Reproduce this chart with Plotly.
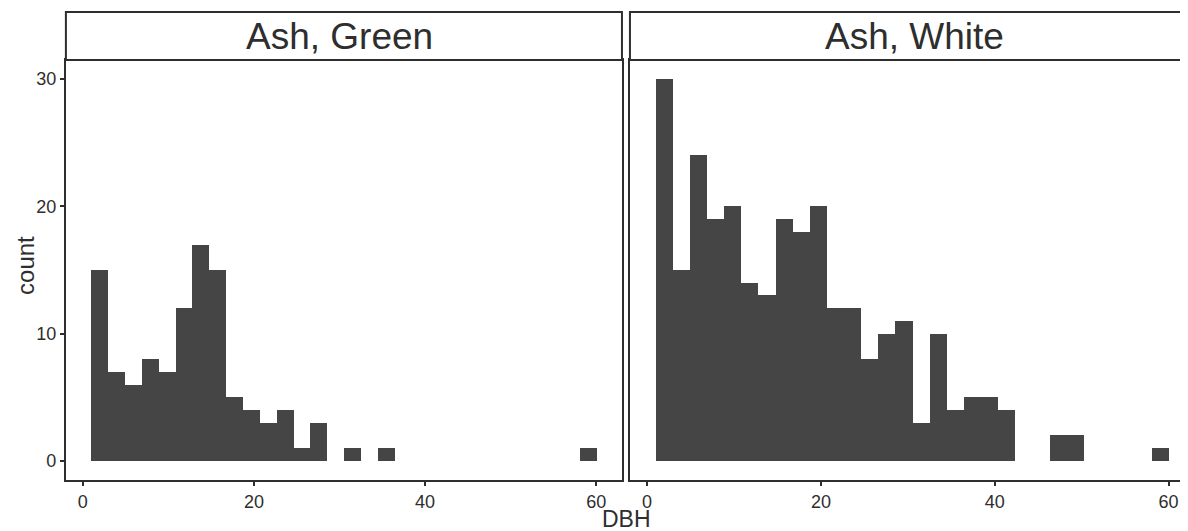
import plotly.graph_objects as go

# ---- data ----
bin_start = 0.98
bin_width = 1.97
green_counts = [15, 7, 6, 8, 7, 12, 17, 15, 5, 4, 3, 4, 1, 3, 0,
                1, 0, 1, 0, 0, 0, 0, 0, 0, 0, 0, 0, 0, 0, 1]
white_counts = [30, 15, 24, 19, 20, 14, 13, 19, 18, 20, 12, 12, 8, 10, 11,
                3, 10, 4, 5, 5, 4, 0, 0, 2, 2, 0, 0, 0, 0, 1]
panel_titles = ["Ash, Green", "Ash, White"]
x_tick_vals = [0, 20, 40, 60]
y_tick_vals = [0, 10, 20, 30]
x_title = "DBH"
y_title = "count"

bin_centers = [bin_start + bin_width * (i + 0.5) for i in range(len(green_counts))]

# the page body has an 8px margin, so the figure is drawn 8px in from the corner
OFF = 8
W, H = 1188 - OFF, 531 - OFF
def px(x):
    return (x - OFF) / W
def py(y):
    return 1 - (y - OFF) / H

BAR = "#454545"
INK = "#2e2e2e"
FONT = "Liberation Sans, Arial, Helvetica, sans-serif"

fig = go.Figure()
fig.add_trace(go.Bar(x=bin_centers, y=green_counts, width=bin_width,
                     marker=dict(color=BAR, line=dict(width=0)),
                     xaxis="x", yaxis="y", name=panel_titles[0]))
fig.add_trace(go.Bar(x=bin_centers, y=white_counts, width=bin_width,
                     marker=dict(color=BAR, line=dict(width=0)),
                     xaxis="x2", yaxis="y2", name=panel_titles[1]))

axis_common = dict(showgrid=False, zeroline=False, showline=True, mirror=True,
                   linecolor=INK, linewidth=2, ticks="outside", ticklen=4,
                   tickwidth=1.5, tickcolor=INK,
                   tickfont=dict(family=FONT, size=18, color=INK))

panel_top, panel_bot = 60, 480
fig.update_layout(
    width=W, height=H,
    margin=dict(l=0, r=0, t=0, b=0),
    paper_bgcolor="white", plot_bgcolor="white",
    showlegend=False, bargap=0,
    font=dict(family=FONT, color=INK),
    xaxis=dict(domain=[px(66), px(623)], range=[-1.97, 63.0],
               tickvals=x_tick_vals, anchor="y", **axis_common),
    xaxis2=dict(domain=[px(631), 1.0], range=[-1.97, 62.0],
                tickvals=x_tick_vals, anchor="y2", **axis_common),
    yaxis=dict(domain=[py(panel_bot), py(panel_top)], range=[-1.5, 31.5],
               tickvals=y_tick_vals, anchor="x", **axis_common),
    yaxis2=dict(domain=[py(panel_bot), py(panel_top)], range=[-1.5, 31.5],
                tickvals=y_tick_vals, anchor="x2", matches="y",
                **{**axis_common, "ticks": "", "showticklabels": False}),
)

# facet strips
strips = [(66, 623, 340), (631, 1200, 916)]
for (x0, x1, xc), title in zip(strips, panel_titles):
    fig.add_shape(type="rect", xref="paper", yref="paper",
                  x0=px(x0), x1=px(x1), y0=py(panel_top), y1=py(12),
                  line=dict(color=INK, width=2), fillcolor="white", layer="above")
    fig.add_annotation(x=px(xc), y=py(37), xref="paper", yref="paper",
                       text=title, showarrow=False, xanchor="center", yanchor="middle",
                       font=dict(family=FONT, size=37, color=INK))

# axis titles
fig.add_annotation(x=px(628), y=py(519), xref="paper", yref="paper", text=x_title,
                   showarrow=False, xanchor="center", yanchor="middle",
                   font=dict(family=FONT, size=23, color=INK))
fig.add_annotation(x=px(25), y=py(265), xref="paper", yref="paper", text=y_title,
                   showarrow=False, textangle=-90, xanchor="center", yanchor="middle",
                   font=dict(family=FONT, size=24, color=INK))

fig.write_html("out.html")
